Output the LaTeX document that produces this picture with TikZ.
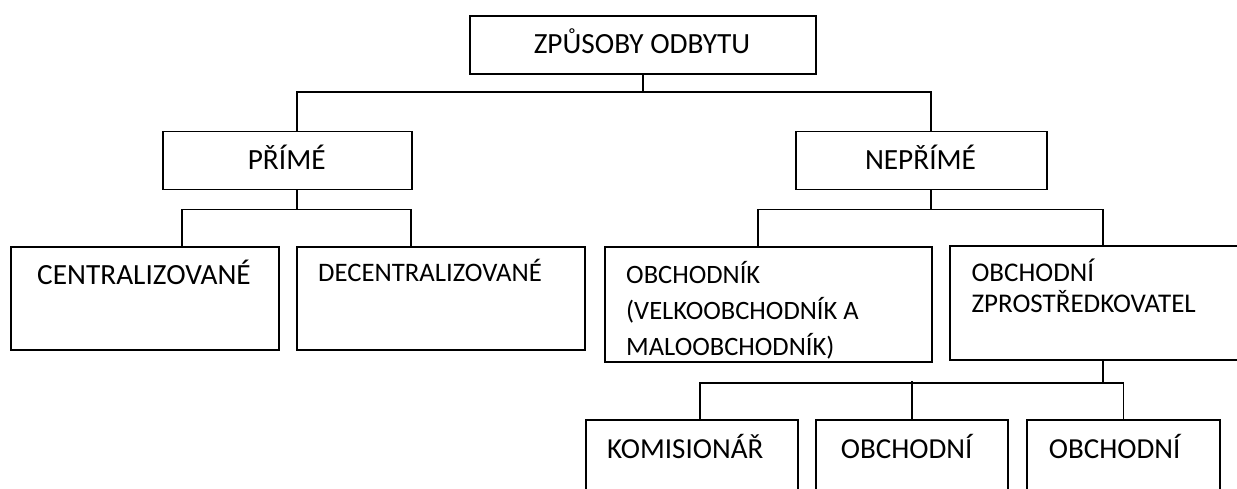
\documentclass[tikz,border=0pt]{standalone}
\usepackage{fontspec}
\setmainfont{Carlito}
\usetikzlibrary{calc}
\begin{document}
\begin{tikzpicture}[x=1pt,y=-1pt,line width=1.8pt,
  box/.style={draw,rectangle,anchor=north west,inner sep=0pt,line width=1.8pt},
  big/.style={inner sep=0pt,font=\fontsize{29.3}{35}\selectfont},
  low/.style={inner sep=0pt,anchor=base west,font=\fontsize{29}{35}\selectfont},
  lefttxt/.style={inner sep=0pt,anchor=base west,align=left}]
\useasboundingbox (0,0) rectangle (1237,489);
\clip (0,0) rectangle (1237,489);
% boxes
\node[box,minimum width=346.3pt,minimum height=58pt] (root) at (469,15) {};
\node[box,minimum width=249.3pt,minimum height=58pt] (prime) at (162,130.7) {};
\node[box,minimum width=250.4pt,minimum height=58pt] (neprime) at (795.3,130.7) {};
\node[box,minimum width=268.3pt,minimum height=103.3pt] (cent) at (10,246) {};
\node[box,minimum width=288.3pt,minimum height=103.3pt] (decent) at (296,246) {};
\node[box,minimum width=327pt,minimum height=115pt] (obch) at (603.7,246) {};
\node[box,minimum width=310pt,minimum height=114.3pt] (zpro) at (949,245) {};
\node[box,minimum width=211.7pt,minimum height=100pt] (kom) at (585.3,419) {};
\node[box,minimum width=192pt,minimum height=100pt] (ob2) at (815.3,419) {};
\node[box,minimum width=192.7pt,minimum height=100pt] (ob3) at (1026.3,419) {};
% texts
\node[big,anchor=base] (rootT) at (642,54) {ZPŮSOBY ODBYTU};
\node[big,anchor=base] (primeT) at (286.7,169.3) {PŘÍMÉ};
\node[big,anchor=base] (neprimeT) at (920.5,169.3) {NEPŘÍMÉ};
\node[big,anchor=base] (centT) at (144,284) {CENTRALIZOVANÉ};
\node[lefttxt,font=\fontsize{26.7}{32}\selectfont] (decentT) at (317.3,281.7) {DECENTRALIZOVANÉ};
\node[lefttxt,font=\fontsize{26.5}{36}\selectfont] (obchT) at (625.3,355) {OBCHODNÍK\\(VELKOOBCHODNÍK A\\MALOOBCHODNÍK)};
\node[lefttxt,font=\fontsize{27}{31}\selectfont] (zproT) at (970.7,312.7) {OBCHODNÍ\\ZPROSTŘEDKOVATEL};
\node[low] (komT) at (606.3,458.3) {KOMISIONÁŘ};
\node[low] (ob2T) at (840,458.3) {OBCHODNÍ};
\node[low] (ob3T) at (1048,458.3) {OBCHODNÍ};
% connectors
\coordinate (h0) at (0,92.3);
\coordinate (h2) at (0,381);
\draw (root.south) -- (root.south |- h0);
\draw ($(prime.north west)+(134.7,0)$) |- (root.south |- h0) -| ($(neprime.north west)+(135.4,0)$);
\draw ($(prime.south west)+(134.7,0)$) -- ($(prime.south west)+(134.7,19)$);
\draw ($(cent.north west)+(171.7,0)$) |- ($(prime.south west)+(134.7,19)$) -| ($(decent.north west)+(115.3,0)$);
\draw ($(neprime.south west)+(135.4,0)$) -- ($(neprime.south west)+(135.4,19)$);
\draw ($(obch.north west)+(154,0)$) |- ($(neprime.south west)+(135.4,19)$) -| ($(zpro.north west)+(154.3,0)$);
\draw ($(zpro.south west)+(154.3,0)$) -- ($(zpro.south west)+(154.3,21.7)$);
\draw ($(kom.north west)+(114.4,0)$) |- ($(zpro.south west)+(154.3,21.7)$) -| (ob3.north);
\draw (ob2.north) -- (ob2.north |- h2);
\end{tikzpicture}
\end{document}
